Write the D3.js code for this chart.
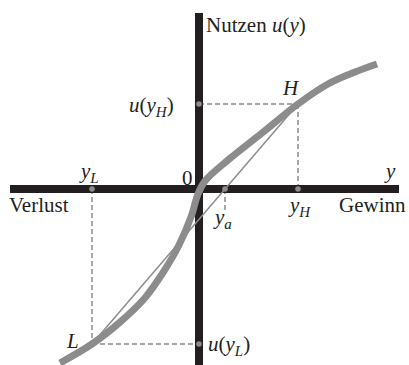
<!DOCTYPE html>
<html>
<head>
<meta charset="utf-8">
<script src="https://cdn.jsdelivr.net/npm/d3@7"></script>
<style>
  body { margin: 0; background: #fff; }
  svg text { font-family: "Liberation Serif", "Times New Roman", serif; fill: #231f20; }
</style>
</head>
<body>
<div id="chart"></div>
<script>
// utility curve u(y)
var curveY = [-13.9, -10.7, -8.0, -5.5, -3.5, -2.0, -0.8, -0.1, 0.6, 2.9, 6.3, 9.9, 12.9, 15.6, 17.8];
var curveU = [-17.4, -15.5, -13.4, -11.0, -8.2, -5.6, -2.8, -0.5, 0.8, 2.9, 5.6, 8.5, 10.5, 11.7, 12.5];

// marked points
var yL = -10.7, uL = -15.5;
var yH = 9.9, uH = 8.5;
var ya = 2.6;

var width = 409, height = 365;

var x = d3.scaleLinear().domain([-18.9, 20]).range([10, 399]);
var y = d3.scaleLinear().domain([-17.6, 17.6]).range([365, 13]);

var svg = d3.select("#chart").append("svg")
    .attr("width", width)
    .attr("height", height);

var grey = "#8c8c8c";

// dashed guides
function dash(x1, y1, x2, y2) {
  svg.append("line")
      .attr("x1", x(x1)).attr("y1", y(y1))
      .attr("x2", x(x2)).attr("y2", y(y2))
      .attr("stroke", grey)
      .attr("stroke-width", 1.5)
      .attr("stroke-dasharray", "5,3");
}
dash(0, uH, yH, uH);
dash(yH, uH, yH, 0);
dash(yL, 0, yL, uL);
dash(yL, uL, 0, uL);
dash(ya, 0, ya, -2.2);

// axes
svg.append("line")
    .attr("x1", x(-18.9)).attr("x2", x(20))
    .attr("y1", y(0)).attr("y2", y(0))
    .attr("stroke", "#231f20").attr("stroke-width", 8);
svg.append("line")
    .attr("x1", x(0)).attr("x2", x(0))
    .attr("y1", y(17.6)).attr("y2", y(-17.6))
    .attr("stroke", "#231f20").attr("stroke-width", 8);

// chord L-H
svg.append("line")
    .attr("x1", x(yL)).attr("y1", y(uL))
    .attr("x2", x(yH)).attr("y2", y(uH))
    .attr("stroke", grey).attr("stroke-width", 1.5);

// utility curve
var pts = curveY.map(function(d, i) { return [d, curveU[i]]; });
var line = d3.line()
    .x(function(d) { return x(d[0]); })
    .y(function(d) { return y(d[1]); })
    .curve(d3.curveCatmullRom.alpha(0.5));

svg.append("path")
    .datum(pts)
    .attr("d", line)
    .attr("fill", "none")
    .attr("stroke", grey)
    .attr("stroke-width", 7);

// dots
var dots = [[0, uH], [yH, 0], [yL, 0], [0, uL], [ya, 0]];
svg.selectAll(".dot")
    .data(dots)
    .enter().append("circle")
    .attr("cx", function(d) { return x(d[0]); })
    .attr("cy", function(d) { return y(d[1]); })
    .attr("r", 2.8)
    .attr("fill", grey);

// labels
function label(px, py, parts) {
  var t = svg.append("text").attr("x", px).attr("y", py).style("font-size", "21px");
  parts.forEach(function(p) {
    var s = t.append("tspan").text(p.t);
    if (p.i) s.style("font-style", "italic");
    if (p.sub) s.style("font-size", "15px").attr("dy", 5);
    if (p.up) s.attr("dy", -5);
  });
  return t;
}

label(206, 32, [{t: "Nutzen "}, {t: "u", i: 1}, {t: "("}, {t: "y", i: 1}, {t: ")"}]);
label(129, 112, [{t: "u", i: 1}, {t: "("}, {t: "y", i: 1}, {t: "H", i: 1, sub: 1}, {t: ")", up: 1}]);
label(283, 95, [{t: "H", i: 1}]);
label(386, 178, [{t: "y", i: 1}]);
label(81, 178, [{t: "y", i: 1}, {t: "L", i: 1, sub: 1}]);
label(182, 185, [{t: "0"}]);
label(9, 212, [{t: "Verlust"}]);
label(290, 212, [{t: "y", i: 1}, {t: "H", i: 1, sub: 1}]);
label(339, 212, [{t: "Gewinn"}]);
label(215, 224, [{t: "y", i: 1}, {t: "a", i: 1, sub: 1}]);
label(67, 348, [{t: "L", i: 1}]);
label(208, 351, [{t: "u", i: 1}, {t: "("}, {t: "y", i: 1}, {t: "L", i: 1, sub: 1}, {t: ")", up: 1}]);
</script>
</body>
</html>
